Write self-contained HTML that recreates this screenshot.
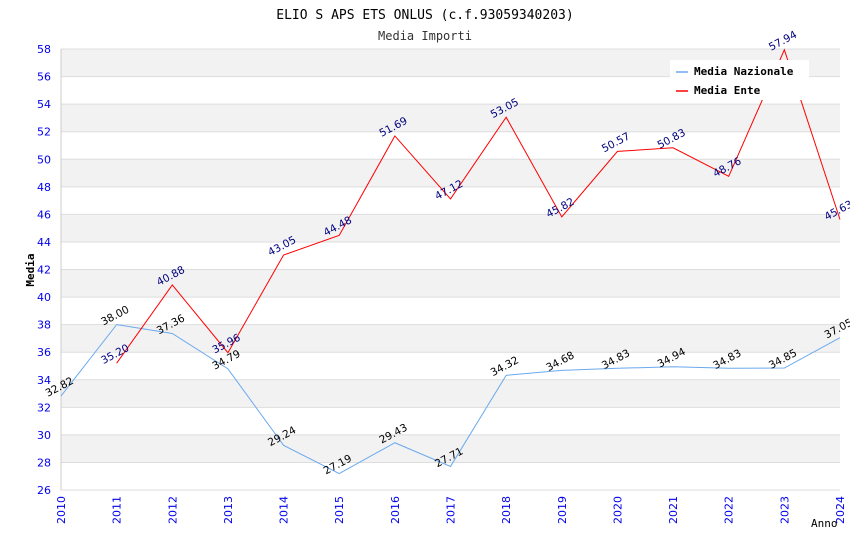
<!DOCTYPE html>
<html><head><meta charset="utf-8"><style>
body{margin:0;background:#fff;}
svg text{font-family:"DejaVu Sans","Liberation Sans",sans-serif;}
.mono{font-family:"DejaVu Sans Mono","Liberation Mono",monospace;}
</style></head><body>
<svg id="chart" width="850" height="550" xmlns="http://www.w3.org/2000/svg">
<text class="mono" x="425" y="19" text-anchor="middle" font-size="13" fill="#000">ELIO S APS ETS ONLUS (c.f.93059340203)</text>
<text class="mono" x="425" y="40" text-anchor="middle" font-size="12" fill="#333">Media Importi</text>
<g id="bands"></g><g id="yticks"></g><g id="xticks"></g>
<text class="mono" x="34" y="270" transform="rotate(-90 34 270)" text-anchor="middle" font-size="11" font-weight="bold">Media</text>
<text class="mono" x="811" y="527" font-size="11">Anno</text>
<g id="series"></g>
<g>
<rect x="670" y="60" width="139" height="40" fill="#fff"/>
<line x1="676" y1="72" x2="688" y2="72" stroke="#6aa9ee" stroke-width="1.5"/>
<text class="mono" x="694" y="75" font-size="11" font-weight="bold">Media Nazionale</text>
<line x1="676" y1="91" x2="688" y2="91" stroke="#ff0000" stroke-width="1.5"/>
<text class="mono" x="694" y="94" font-size="11" font-weight="bold">Media Ente</text>
</g>
</svg>
<script>
const years=[2010,2011,2012,2013,2014,2015,2016,2017,2018,2019,2020,2021,2022,2023,2024];
const nazionale=[32.82,38.00,37.36,34.79,29.24,27.19,29.43,27.71,34.32,34.68,34.83,34.94,34.83,34.85,37.05];
const ente=[null,35.20,40.88,35.96,43.05,44.48,51.69,47.12,53.05,45.82,50.57,50.83,48.76,57.94,45.63];
const yTicks=[26,28,30,32,34,36,38,40,42,44,46,48,50,52,54,56,58];
const NS="http://www.w3.org/2000/svg";
const X0=61,X1=840,Y0=490,Y1=49,YMIN=26,YMAX=58;
const xs=i=>X0+(X1-X0)*(years[i]-years[0])/(years[years.length-1]-years[0]);
const ys=v=>Y0-(Y0-Y1)*(v-YMIN)/(YMAX-YMIN);
function mk(t,a,p){const e=document.createElementNS(NS,t);for(const k in a)e.setAttribute(k,a[k]);p.appendChild(e);return e;}
const bands=document.getElementById('bands');
for(let i=0;i<yTicks.length-1;i++){
 const b=mk('rect',{x:X0,y:ys(yTicks[i+1]),width:X1-X0,height:ys(yTicks[i])-ys(yTicks[i+1]),fill:(yTicks.length-2-i)%2===0?'#f2f2f2':'#fff'},bands);
 
 
}
const yt=document.getElementById('yticks');
yTicks.forEach(v=>{
 mk('line',{x1:X0,x2:X1,y1:ys(v),y2:ys(v),stroke:'#dddddd','stroke-width':1},yt);
 const t=mk('text',{x:X0-10,y:ys(v)+4,'text-anchor':'end','font-size':11,fill:'#0000ee'},yt);
 t.textContent=v;
 
 
});
mk('line',{x1:X0,x2:X0,y1:Y1,y2:Y0,stroke:'#ccc'},yt);
const xt=document.getElementById('xticks');
years.forEach((y,i)=>{
 const x=xs(i);
 const t=mk('text',{x:x+4,y:Y0+6,'text-anchor':'end','font-size':11,fill:'#0000ee',transform:`rotate(-90 ${x+4} ${Y0+6})`},xt);
 t.textContent=y;
 
 
});
const sg=document.getElementById('series');
function series(vals,color,lab,name){
 let d='';vals.forEach((v,i)=>{if(v==null)return;d+=(d?'L':'M')+xs(i)+','+ys(v);});
 const p=mk('path',{d:d,fill:'none',stroke:color,'stroke-width':1},sg);
 
 
 vals.forEach((v,i)=>{if(v==null)return;
  const x=xs(i),y=ys(v)-6;
  const t=mk('text',{x:x,y:y,'text-anchor':'middle','font-size':10.5,fill:lab,transform:`rotate(-28 ${x} ${y})`},sg);
  t.textContent=v.toFixed(2);
  
  
 });
}
series(nazionale,'#6aa9ee','#000','nazionale');
series(ente,'#ff0000','#000080','ente');
</script>
</body></html>
